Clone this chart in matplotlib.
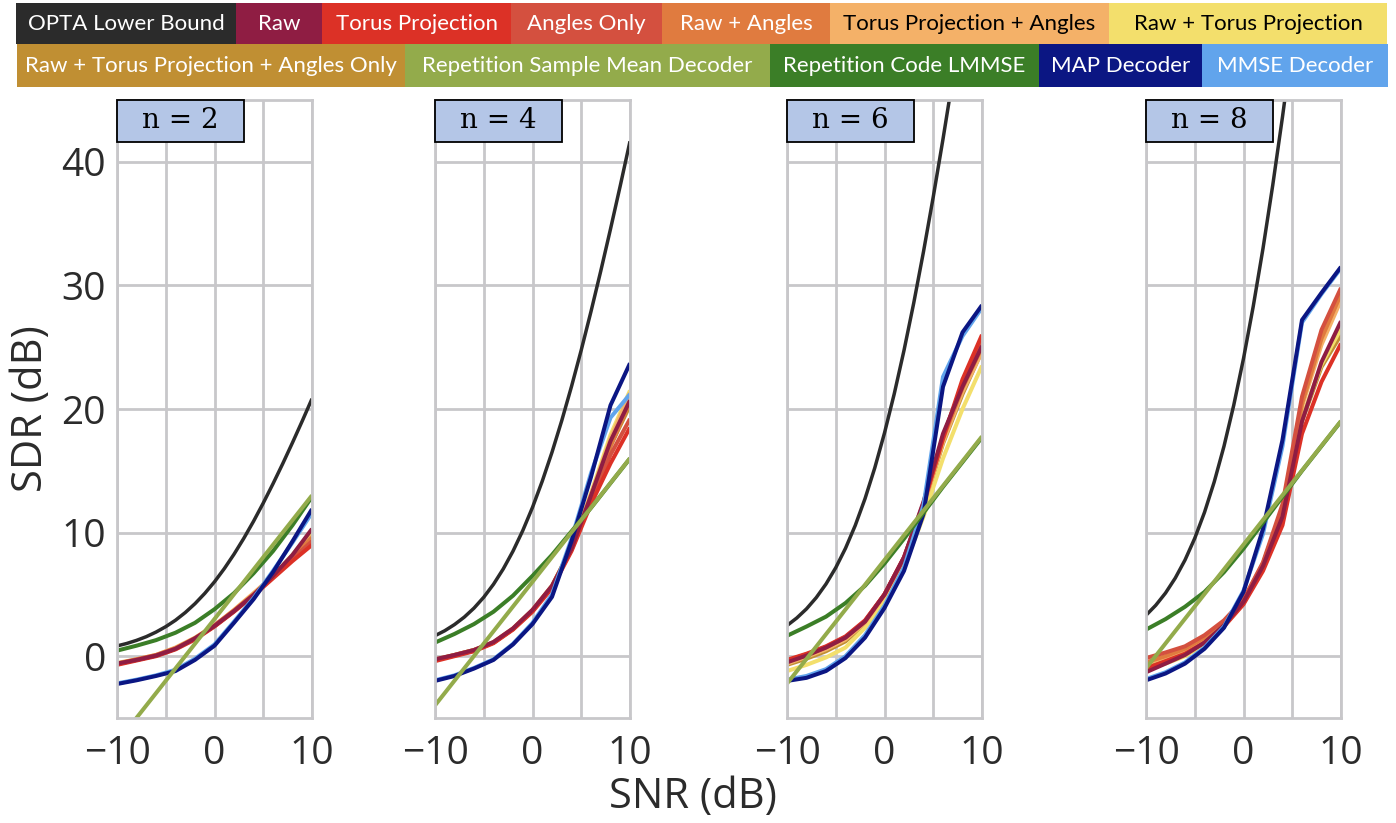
import matplotlib

matplotlib.use("Agg")
import matplotlib.pyplot as plt
from matplotlib.patches import Rectangle
from matplotlib.ticker import MultipleLocator

plt.rcParams["font.family"] = ["Open Sans", "DejaVu Sans"]

# ---- data ----
snr_db = [-10, -8, -6, -4, -2, 0, 2, 4, 6, 8, 10]
snr_fine = [-10, -9, -8, -7, -6, -5, -4, -3, -2, -1, 0,
            1, 2, 3, 4, 5, 6, 7, 8, 9, 10]
n_values = [2, 4, 6, 8]

# OPTA bound is sampled on the finer SNR grid
opta = {
    2: [0.83, 1.03, 1.28, 1.58, 1.95, 2.39, 2.91, 3.53, 4.25, 5.08, 6.02,
        7.08, 8.25, 9.53, 10.91, 12.39, 13.95, 15.58, 17.28, 19.03, 20.83],
    4: [1.66, 2.06, 2.56, 3.16, 3.89, 4.77, 5.82, 7.06, 8.50, 10.16, 12.04,
        14.16, 16.50, 19.06, 21.82, 24.77, 27.89, 31.16, 34.56, 38.06, 41.66],
    6: [2.48, 3.09, 3.83, 4.74, 5.84, 7.16, 8.73, 10.58, 12.74, 15.23, 18.06,
        21.23, 24.74, 28.58, 32.73, 37.16, 41.84, 46.74, 51.83, 57.09, 62.48],
    8: [3.31, 4.12, 5.11, 6.32, 7.78, 9.54, 11.64, 14.11, 16.99, 20.31, 24.08,
        28.31, 32.99, 38.11, 43.64, 49.54, 55.78, 62.32, 69.11, 76.12, 83.31],
}
raw = {
    2: [-0.6, -0.3, 0.05, 0.6, 1.45, 2.45, 3.65, 4.95, 6.5, 8.2, 10.3],
    4: [-0.25, 0.1, 0.5, 1.15, 2.25, 3.75, 5.7, 8.7, 13.0, 17.4, 20.7],
    6: [-0.5, 0.05, 0.7, 1.5, 2.8, 5.0, 8.0, 12.5, 18.0, 21.8, 25.1],
    8: [-1.3, -0.6, 0.1, 1.1, 2.5, 4.4, 7.3, 11.3, 19.0, 23.8, 27.1],
}
torus = {
    2: [-0.7, -0.35, 0.0, 0.55, 1.35, 2.4, 3.6, 4.9, 6.3, 7.7, 9.0],
    4: [-0.4, 0.0, 0.4, 1.05, 2.15, 3.6, 5.5, 8.5, 12.3, 15.6, 18.5],
    6: [-0.3, 0.2, 0.8, 1.6, 2.9, 5.0, 8.0, 12.3, 17.6, 22.4, 26.0],
    8: [-1.0, -0.4, 0.2, 1.1, 2.4, 4.2, 6.9, 10.6, 18.0, 22.2, 25.3],
}
angles = {
    2: [-0.65, -0.3, 0.05, 0.6, 1.4, 2.45, 3.65, 4.95, 6.4, 7.9, 9.3],
    4: [-0.3, 0.05, 0.45, 1.1, 2.2, 3.7, 5.6, 8.6, 12.6, 16.3, 19.2],
    6: [-0.35, 0.15, 0.75, 1.55, 2.85, 5.0, 8.0, 12.4, 17.8, 22.0, 25.5],
    8: [-0.15, 0.3, 0.8, 1.7, 2.9, 4.6, 7.6, 12.3, 21.0, 26.4, 29.8],
}
raw_angles = {
    2: [-0.6, -0.25, 0.1, 0.65, 1.45, 2.5, 3.7, 5.0, 6.45, 8.0, 9.6],
    4: [-0.3, 0.1, 0.5, 1.1, 2.2, 3.7, 5.65, 8.7, 12.9, 17.0, 20.6],
    6: [-0.45, 0.1, 0.7, 1.5, 2.8, 5.0, 7.9, 12.3, 17.6, 21.7, 25.0],
    8: [-0.5, 0.0, 0.6, 1.5, 2.8, 4.5, 7.5, 12.0, 20.4, 25.7, 29.3],
}
torus_angles = {
    2: [-0.55, -0.25, 0.1, 0.7, 1.5, 2.5, 3.75, 5.1, 6.5, 8.05, 9.7],
    4: [-0.25, 0.1, 0.5, 1.15, 2.25, 3.75, 5.7, 8.75, 13.1, 17.6, 21.3],
    6: [-0.6, -0.05, 0.55, 1.35, 2.7, 4.9, 7.8, 12.1, 17.3, 21.4, 24.6],
    8: [-0.6, -0.1, 0.5, 1.4, 2.7, 4.5, 7.5, 11.9, 20.2, 25.2, 28.8],
}
raw_torus = {
    2: [-0.65, -0.3, 0.05, 0.6, 1.4, 2.45, 3.7, 5.0, 6.5, 8.2, 10.1],
    4: [-0.3, 0.05, 0.45, 1.1, 2.2, 3.7, 5.7, 8.8, 13.2, 17.9, 21.5],
    6: [-1.2, -0.7, -0.1, 0.7, 2.3, 4.5, 7.2, 11.3, 16.0, 20.0, 23.5],
    8: [-1.1, -0.6, 0.0, 1.0, 2.4, 4.3, 7.2, 11.4, 19.3, 23.6, 26.5],
}
raw_torus_angles = {
    2: [-0.6, -0.3, 0.05, 0.6, 1.45, 2.45, 3.65, 5.0, 6.45, 8.1, 9.9],
    4: [-0.3, 0.1, 0.5, 1.1, 2.2, 3.7, 5.65, 8.7, 12.9, 17.0, 20.3],
    6: [-0.7, -0.2, 0.4, 1.2, 2.6, 4.8, 7.7, 12.0, 17.2, 21.2, 24.7],
    8: [-0.9, -0.4, 0.2, 1.1, 2.5, 4.4, 7.3, 11.2, 19.0, 23.4, 26.0],
}
sample_mean = {
    2: [-6.99, -4.99, -2.99, -0.99, 1.01, 3.01, 5.01, 7.01, 9.01, 11.01, 13.01],
    4: [-3.98, -1.98, 0.02, 2.02, 4.02, 6.02, 8.02, 10.02, 12.02, 14.02, 16.02],
    6: [-2.22, -0.22, 1.78, 3.78, 5.78, 7.78, 9.78, 11.78, 13.78, 15.78, 17.78],
    8: [-0.97, 1.03, 3.03, 5.03, 7.03, 9.03, 11.03, 13.03, 15.03, 17.03, 19.03],
}
lmmse = {
    2: [0.45, 0.85, 1.3, 1.9, 2.7, 3.8, 5.1, 6.7, 8.5, 10.6, 12.9],
    4: [1.1, 1.8, 2.6, 3.6, 4.9, 6.5, 8.2, 10.1, 12.0, 14.0, 16.0],
    6: [1.65, 2.4, 3.2, 4.3, 5.7, 7.5, 9.5, 11.6, 13.7, 15.7, 17.7],
    8: [2.15, 3.0, 4.0, 5.2, 6.8, 8.7, 10.8, 12.9, 15.0, 17.0, 19.0],
}
map_dec = {
    2: [-2.25, -1.95, -1.6, -1.2, -0.3, 0.85, 2.7, 4.6, 6.8, 9.3, 11.9],
    4: [-2.0, -1.6, -1.0, -0.3, 0.95, 2.6, 4.8, 9.3, 14.5, 20.3, 23.7],
    6: [-2.0, -1.75, -1.2, -0.15, 1.5, 3.9, 6.9, 11.5, 21.8, 26.2, 28.4],
    8: [-1.95, -1.4, -0.6, 0.6, 2.3, 5.2, 10.3, 17.5, 27.2, 29.4, 31.5],
}
mmse_dec = {
    2: [-2.2, -1.9, -1.55, -1.1, -0.2, 0.95, 2.8, 4.7, 6.9, 9.2, 11.6],
    4: [-1.95, -1.55, -0.95, -0.25, 1.0, 2.7, 5.0, 9.5, 14.8, 19.3, 21.2],
    6: [-1.9, -1.6, -1.05, 0.0, 1.7, 4.1, 7.2, 12.2, 22.6, 25.9, 28.2],
    8: [-1.85, -1.3, -0.5, 0.7, 2.4, 5.3, 9.9, 17.0, 27.0, 29.3, 31.4],
}

# name, data, colour, legend text colour
series = [
    ("OPTA Lower Bound", opta, "#2b2b2b", "white"),
    ("Raw", raw, "#8f1d43", "white"),
    ("Torus Projection", torus, "#dc3126", "white"),
    ("Angles Only", angles, "#d4503f", "white"),
    ("Raw + Angles", raw_angles, "#e07b3f", "white"),
    ("Torus Projection + Angles", torus_angles, "#f4b168", "black"),
    ("Raw + Torus Projection", raw_torus, "#f3df6c", "black"),
    ("Raw + Torus Projection + Angles Only", raw_torus_angles, "#c08f33", "white"),
    ("Repetition Sample Mean Decoder", sample_mean, "#93ab4b", "white"),
    ("Repetition Code LMMSE", lmmse, "#3b7e27", "white"),
    ("MAP Decoder", map_dec, "#0b1683", "white"),
    ("MMSE Decoder", mmse_dec, "#61a4ec", "white"),
]
# bottom -> top
draw_order = [7, 6, 5, 4, 3, 2, 1, 11, 10, 9, 8, 0]

# ---- layout ----
W, H = 1396, 823
fig = plt.figure(figsize=(W / 100, H / 100), dpi=100)
grid_c = "#c8c7ca"
tick_c = "#2b2b2b"

ax_left_px = [117, 435, 787, 1146]
ax_w_px, ax_top_px, ax_bot_px = 195, 100, 718

for i, n in enumerate(n_values):
    ax = fig.add_axes([ax_left_px[i] / W, 1 - ax_bot_px / H, ax_w_px / W,
                       (ax_bot_px - ax_top_px) / H])
    for k in draw_order:
        name, data, color, _ = series[k]
        xs = snr_fine if k == 0 else snr_db
        lw = 2.5 if k == 0 else 2.9
        ax.plot(xs, data[n], color=color, lw=lw, solid_capstyle="butt",
                solid_joinstyle="round")
    ax.set_xlim(-10, 10)
    ax.set_ylim(-5, 45)
    ax.xaxis.set_major_locator(MultipleLocator(10))
    ax.xaxis.set_minor_locator(MultipleLocator(5))
    ax.set_yticks([0, 10, 20, 30, 40])
    ax.grid(True, which="both", axis="x", color=grid_c, lw=2.0)
    ax.grid(True, which="major", axis="y", color=grid_c, lw=2.0)
    ax.set_axisbelow(True)
    for sp in ax.spines.values():
        sp.set_color(grid_c)
        sp.set_linewidth(2.0)
    ax.tick_params(which="both", length=0, labelsize=28, colors=tick_c)
    ax.tick_params(axis="x", pad=12)
    ax.tick_params(axis="y", pad=8)
    ax.xaxis.set_major_formatter(lambda v, _p: f"{v:.0f}".replace("-", "\u2212"))
    if i > 0:
        ax.tick_params(axis="y", labelleft=False)

    # panel label box in the top-left corner
    bw, bh = 127 / ax_w_px, 42 / (ax_bot_px - ax_top_px)
    ax.add_patch(Rectangle((0, 1 - bh), bw, bh, transform=ax.transAxes,
                           facecolor="#b4c6e7", edgecolor="black", lw=1.3,
                           zorder=5, clip_on=False))
    ax.text(bw / 2, 1 - bh / 2, f"n = {n}", transform=ax.transAxes,
            ha="center", va="center", fontsize=20, family="DejaVu Serif",
            zorder=6)

fig.text(31 / W, 1 - 409 / H, "SDR (dB)", rotation=90, ha="center",
         va="center", fontsize=30, color=tick_c)
fig.text(693 / W, 1 - 797 / H, "SNR (dB)", ha="center", va="center",
         fontsize=30, color=tick_c)

# ---- legend as a band of coloured boxes ----
rows = [
    ([16, 236, 322, 511, 662, 830, 1109, 1387], range(0, 7), 3, 44),
    ([17, 405, 770, 1039, 1202, 1388], range(7, 12), 44, 87),
]
for edges, idx, y0, y1 in rows:
    for j, k in enumerate(idx):
        name, _, color, tcolor = series[k]
        x0, x1 = edges[j], edges[j + 1]
        fig.patches.append(Rectangle((x0 / W, 1 - y1 / H), (x1 - x0) / W,
                                     (y1 - y0) / H, transform=fig.transFigure,
                                     facecolor=color, edgecolor="none"))
        fig.text((x0 + x1) / 2 / W, 1 - (y0 + y1) / 2 / H, name, ha="center",
                 va="center", fontsize=16, color=tcolor, family="Lato")

fig.savefig("out.png", dpi=100)
